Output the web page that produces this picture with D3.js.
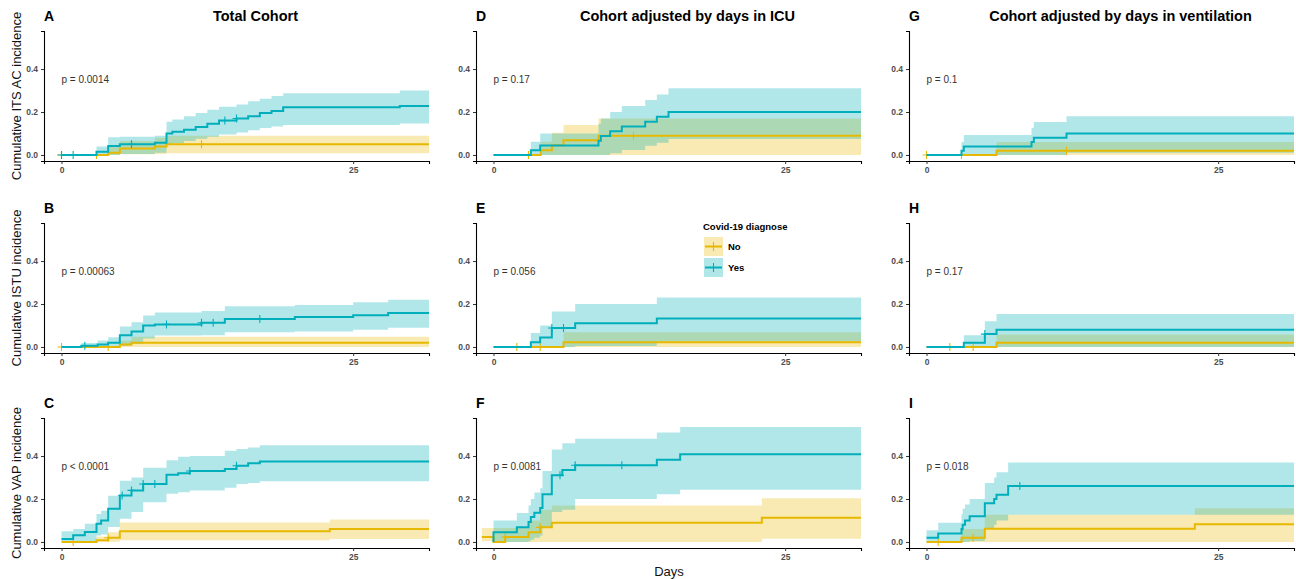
<!DOCTYPE html>
<meta charset="utf-8">
<style>
body { margin: 0; background: #fff; }
text { font-family: "Liberation Sans", Arial, sans-serif; }
.tick-lab { font-size: 8.5px; font-weight: bold; fill: #4d4d4d; }
.ptext { font-size: 10px; fill: #333; }
</style>
<body>
<script src="https://d3js.org/d3.v7.min.js"></script>
<script>

// step data: [day, estimate, lower, upper]
var A_no = [[0,0,0,0],[4,0.01,0,0.04],[5,0.03,0.003,0.065],[8,0.04,0.005,0.08],[9,0.05,0.008,0.09]];
var A_yes = [[0,0,0,0],[3,0.015,0,0.04],[4,0.042,0,0.082],[5,0.05,0.005,0.085],[8,0.057,0.01,0.09],[9,0.1,0.05,0.155],
  [9.5,0.108,0.055,0.165],[10.5,0.117,0.065,0.18],[11.5,0.13,0.075,0.195],[12.5,0.145,0.085,0.21],[13.5,0.16,0.095,0.225],
  [15,0.17,0.105,0.235],[16,0.18,0.115,0.25],[17,0.195,0.125,0.262],[18,0.205,0.132,0.275],[19,0.222,0.14,0.287],[29,0.228,0.147,0.3]];
var A_noCens = [0, 3, 12];
var A_yesCens = [0, 1, 6, 14, 15];

var B_no = [[0,0,0,0],[5,0.012,0,0.03],[6,0.02,0,0.048]];
var B_yes = [[0,0,0,0],[1.7,0.006,0,0.018],[3.1,0.012,0,0.03],[4,0.02,0,0.045],[5,0.055,0.006,0.095],[6,0.072,0.015,0.115],
  [7,0.1,0.04,0.146],[8,0.105,0.053,0.16],[12,0.113,0.055,0.168],[14,0.13,0.068,0.19],[20,0.14,0.072,0.195],[25,0.148,0.08,0.208],[28,0.158,0.09,0.22]];
var B_noCens = [0, 4];
var B_yesCens = [2, 9, 12, 13, 17];

var C_no = [[0,0,0,0],[3,0.008,0,0.025],[4,0.02,0.001,0.045],[5,0.05,0.008,0.091],[23,0.06,0.014,0.105]];
var C_yes = [[0,0.014,0,0.05],[1,0.031,0,0.06],[2,0.046,0.003,0.085],[3,0.085,0.03,0.13],[3.4,0.1,0.035,0.145],[4,0.155,0.07,0.215],
  [5,0.216,0.108,0.285],[6,0.24,0.14,0.3],[7,0.27,0.185,0.345],[9,0.313,0.224,0.38],[10,0.32,0.232,0.397],[11,0.33,0.24,0.4],
  [14,0.34,0.252,0.425],[15,0.355,0.27,0.433],[16,0.366,0.275,0.44],[17,0.375,0.283,0.45]];
var C_noCens = [1, 4];
var C_yesCens = [5.2, 6, 7, 8, 11, 15];

var D_no = [[0,0,0,0],[4.05,0.022,0,0.062],[5,0.045,0,0.104],[6,0.068,0,0.14],[9,0.09,0,0.17]];
var D_yes = [[0,0,0,0],[3.2,0.022,0,0.062],[4,0.044,0,0.1],[9,0.066,0,0.145],[9.2,0.088,0,0.17],[10,0.11,0.008,0.2],
  [11,0.133,0.023,0.228],[13,0.155,0.043,0.256],[14,0.178,0.057,0.282],[15,0.2,0.074,0.31]];
var D_noCens = [3, 12];
var D_yesCens = [];

var E_no = [[0,0,0,0],[6,0.022,0,0.068]];
var E_yes = [[0,0,0,0],[3.2,0.022,0,0.065],[4,0.044,0,0.1],[5,0.088,0,0.165],[7,0.11,0.005,0.2],[14,0.133,0.025,0.23]];
var E_noCens = [2, 4];
var E_yesCens = [5, 6];

var F_no = [[-1,0.023,0.003,0.065],[0,0,0,0.065],[1,0.023,0,0.065],[3,0.045,0,0.1],[4,0.068,0,0.15],[5,0.09,0,0.17],[23,0.113,0.015,0.204]];
var F_yes = [[0,0,0,0],[0,0.045,0,0.1],[2,0.068,0,0.135],[3,0.093,0.003,0.17],[3.2,0.116,0.01,0.2],[3.5,0.136,0.02,0.23],
  [4,0.158,0.03,0.25],[4.2,0.222,0.07,0.33],[5,0.31,0.14,0.43],[5.9,0.335,0.15,0.46],[7,0.357,0.2,0.48],[14,0.383,0.222,0.51],[16,0.408,0.243,0.535]];
var F_noCens = [1, 4];
var F_yesCens = [5.7, 7, 11];

var G_no = [[0,0,0,0],[6,0.02,0,0.06]];
var G_yes = [[0,0,0,0],[3,0.02,0,0.06],[3.2,0.04,0,0.093],[9,0.06,0,0.127],[9.2,0.08,0,0.153],[12,0.1,0.01,0.18]];
var G_noCens = [0, 3, 12];
var G_yesCens = [];

var H_no = [[0,0,0,0],[6,0.02,0,0.058]];
var H_yes = [[0,0,0,0],[3.2,0.02,0,0.055],[5,0.06,0,0.12],[6,0.08,0,0.153]];
var H_noCens = [2, 4];
var H_yesCens = [5];

var I_no = [[0,0,0,0],[3,0.02,0,0.06],[5,0.062,0,0.127],[23,0.083,0,0.157]];
var I_yes = [[0,0.02,0,0.055],[1,0.04,0,0.09],[3,0.06,0,0.13],[3.1,0.08,0,0.155],[3.3,0.1,0,0.175],[3.7,0.12,0.005,0.2],
  [5,0.18,0.06,0.275],[5.8,0.2,0.08,0.3],[6,0.22,0.1,0.325],[7,0.26,0.127,0.37]];
var I_noCens = [1, 4];
var I_yesCens = [8];

var titles = ["Total Cohort", "Cohort adjusted by days in ICU", "Cohort adjusted by days in ventilation"];
var yTitles = ["Cumulative ITS AC incidence", "Cumulative ISTU incidence", "Cumulative VAP incidence"];
var xTicks = [0, 25];
var yTicks = [0, 0.2, 0.4];
var groups = ["No", "Yes"];

var panels = [
  {id: "A", row: 0, col: 0, p: "p = 0.0014", no: A_no, yes: A_yes, noC: A_noCens, yesC: A_yesCens},
  {id: "B", row: 1, col: 0, p: "p = 0.00063", no: B_no, yes: B_yes, noC: B_noCens, yesC: B_yesCens},
  {id: "C", row: 2, col: 0, p: "p < 0.0001", no: C_no, yes: C_yes, noC: C_noCens, yesC: C_yesCens},
  {id: "D", row: 0, col: 1, p: "p = 0.17", no: D_no, yes: D_yes, noC: D_noCens, yesC: D_yesCens},
  {id: "E", row: 1, col: 1, p: "p = 0.056", no: E_no, yes: E_yes, noC: E_noCens, yesC: E_yesCens},
  {id: "F", row: 2, col: 1, p: "p = 0.0081", no: F_no, yes: F_yes, noC: F_noCens, yesC: F_yesCens},
  {id: "G", row: 0, col: 2, p: "p = 0.1", no: G_no, yes: G_yes, noC: G_noCens, yesC: G_yesCens},
  {id: "H", row: 1, col: 2, p: "p = 0.17", no: H_no, yes: H_yes, noC: H_noCens, yesC: H_yesCens},
  {id: "I", row: 2, col: 2, p: "p = 0.018", no: I_no, yes: I_yes, noC: I_noCens, yesC: I_yesCens}
];

var colors = {No: "#E7B800", Yes: "#00AFBB"};
var colX = [44, 476, 909], rowTop = [31, 223, 418];
var pw = 385, ph = 130;
var xMax = 31.5;

var svg = d3.select("body").append("svg")
    .attr("width", 1296).attr("height", 579);

// value of the step function at day t
function stepAt(data, t) {
  var v = data[0][1];
  data.forEach(function(d) { if (d[0] <= t) v = d[1]; });
  return v;
}

panels.forEach(function(P) {
  var left = colX[P.col], top = rowTop[P.row];
  var x = d3.scaleLinear().domain([-1.5, xMax]).range([left, left + pw]);
  var y = d3.scaleLinear().domain([-0.028, 0.577]).range([top + ph, top]);
  var g = svg.append("g");

  var series = [["No", P.no, P.noC], ["Yes", P.yes, P.yesC]];
  series.forEach(function(s) {
    var last = s[1][s[1].length - 1];
    s.push(s[1].concat([[xMax, last[1], last[2], last[3]]]));
  });

  var area = d3.area().curve(d3.curveStepAfter)
      .x(function(d) { return x(d[0]); })
      .y0(function(d) { return y(d[2]); })
      .y1(function(d) { return y(d[3]); });
  var line = d3.line().curve(d3.curveStepAfter)
      .x(function(d) { return x(d[0]); })
      .y(function(d) { return y(d[1]); });

  series.forEach(function(s) {
    g.append("path").attr("d", area(s[3]))
      .attr("fill", colors[s[0]]).attr("fill-opacity", 0.3);
  });
  series.forEach(function(s) {
    g.append("path").attr("d", line(s[3]))
      .attr("fill", "none").attr("stroke", colors[s[0]]).attr("stroke-width", 2);
    s[2].forEach(function(t) {
      var cx = x(t), cy = y(stepAt(s[1], t));
      g.append("path").attr("d", "M" + (cx - 4) + "," + cy + "H" + (cx + 4) + "M" + cx + "," + (cy - 4) + "V" + (cy + 4))
        .attr("stroke", colors[s[0]]).attr("stroke-width", 1.1);
    });
  });

  // axes
  var xa = g.append("g").attr("transform", "translate(0," + (top + ph) + ")")
      .call(d3.axisBottom(x).tickValues(xTicks).tickSize(3).tickPadding(3).tickFormat(d3.format("d")));
  var ya = g.append("g").attr("transform", "translate(" + left + ",0)")
      .call(d3.axisLeft(y).tickValues(yTicks).tickSize(3).tickPadding(3).tickFormat(d3.format(".1f")));
  [xa, ya].forEach(function(a) {
    a.select(".domain").attr("stroke", "#000").attr("stroke-width", 1.1);
    a.selectAll(".tick line").attr("stroke", "#333");
    a.selectAll(".tick text").attr("class", "tick-lab").attr("font-family", null).attr("font-size", null).attr("fill", null);
  });

  g.append("text").attr("class", "ptext").attr("x", x(0)).attr("y", y(0.35) + 3.5).text(P.p);

  g.append("text").attr("x", left).attr("y", top - 10)
    .attr("font-size", 14).attr("font-weight", "bold").text(P.id);

  if (P.row === 0) {
    g.append("text").attr("x", left + pw / 2 + 19).attr("y", top - 10)
      .attr("text-anchor", "middle").attr("font-size", 14.5).attr("font-weight", "bold")
      .text(titles[P.col]);
  }
  if (P.col === 0) {
    g.append("text").attr("text-anchor", "middle")
      .attr("transform", "translate(21," + (top + ph / 2) + ")rotate(-90)")
      .attr("font-size", 13).attr("fill", "#111").text(yTitles[P.row]);
  }
});

svg.append("text").attr("x", 669).attr("y", 576).attr("text-anchor", "middle")
  .attr("font-size", 13).attr("fill", "#111").text("Days");

// legend
var lg = svg.append("g").attr("transform", "translate(704,220)");
lg.append("text").attr("x", -1).attr("y", 10).attr("font-size", 9.5).attr("font-weight", "bold").text("Covid-19 diagnose");
groups.forEach(function(k, i) {
  var yy = 17 + i * 21;
  lg.append("rect").attr("x", 0).attr("y", yy).attr("width", 19).attr("height", 19)
    .attr("fill", colors[k]).attr("fill-opacity", 0.3);
  lg.append("line").attr("x1", 1).attr("x2", 18).attr("y1", yy + 9.5).attr("y2", yy + 9.5)
    .attr("stroke", colors[k]).attr("stroke-width", 2);
  lg.append("line").attr("x1", 9.5).attr("x2", 9.5).attr("y1", yy + 5).attr("y2", yy + 14)
    .attr("stroke", colors[k]).attr("stroke-width", 1.1);
  lg.append("text").attr("x", 24).attr("y", yy + 13).attr("font-size", 9.5).attr("font-weight", "bold").text(k);
});

</script>
</body>
